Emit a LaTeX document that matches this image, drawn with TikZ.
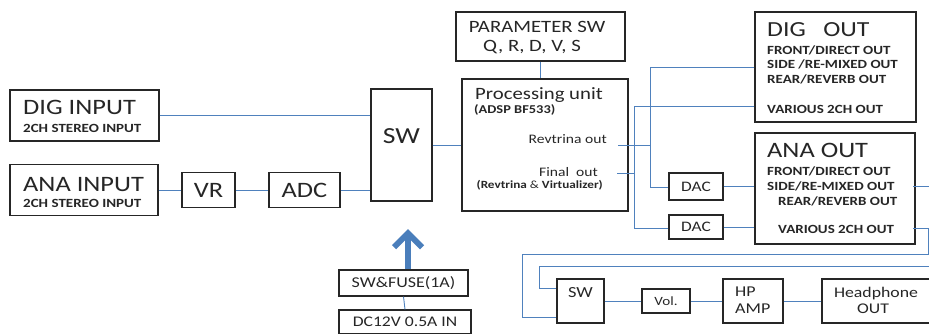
\documentclass[tikz,border=0pt]{standalone}
\usepackage{fontspec}
\setmainfont{Carlito}[FakeStretch=1.2]
\usetikzlibrary{arrows.meta}
\definecolor{wireblue}{HTML}{4F81BD}
\definecolor{arrowblue}{HTML}{4A7EBB}
\definecolor{boxgray}{HTML}{262626}
\begin{document}
\begin{tikzpicture}[x=1pt, y=-1pt,
    box/.style={draw=boxgray, line width=1.1pt, inner sep=0pt, text=boxgray},
    txt/.style={inner sep=0pt, text=boxgray},
    big/.style={txt, font=\fontsize{22}{22}\selectfont},
    small/.style={txt, anchor=base west, font=\fontsize{12.5}{13}\bfseries},
    wire/.style={draw=wireblue, line width=0.9pt},
    power/.style={draw=arrowblue, line width=6pt, -{Straight Barb[length=14pt, width=28pt, line width=6pt]}}]
  \useasboundingbox (0,0) rectangle (929,333);
  % inputs
  \node[box, minimum width=149, minimum height=51] (digin) at (84.5,115.5) {};
  \node[big, anchor=base west] (digint) at (23,114) {DIG INPUT};
  \node[small] (digins) at (23,132) {2CH STEREO INPUT};
  \node[box, minimum width=148, minimum height=51] (anain) at (84,190) {};
  \node[big, anchor=base west] (anaint) at (23,191) {ANA INPUT};
  \node[small] (anains) at (23,207) {2CH STEREO INPUT};
  \node[box, minimum width=53, minimum height=35, font=\fontsize{22}{22}\selectfont] (vr) at (208.5,190) {VR};
  \node[box, minimum width=71, minimum height=35, font=\fontsize{22}{22}\selectfont] (adc) at (304.5,190) {ADC};
  \node[box, minimum width=61, minimum height=112, text depth=18pt, font=\fontsize{23}{23}\selectfont] (sw1) at (401.5,145) {SW};
  % processing
  \node[box, minimum width=169, minimum height=49] (param) at (540.5,36.5) {};
  \node[txt, anchor=base, font=\fontsize{17.3}{18}\selectfont] (paramt) at (537,32) {PARAMETER SW};
  \node[txt, anchor=base, font=\fontsize{17.3}{18}\selectfont] (params) at (532,51.5) {Q, R, D, V, S};
  \node[box, minimum width=166, minimum height=132] (proc) at (545,145) {};
  \node[txt, anchor=base west, font=\fontsize{17.3}{18}\selectfont] (proct) at (475,99) {Processing unit};
  \node[txt, anchor=base west, font=\fontsize{12}{12}\bfseries] (procs) at (474,113) {(ADSP BF533)};
  \node[txt, anchor=base east, font=\fontsize{13}{13}\selectfont] (revt) at (607,143) {Revtrina out};
  \node[txt, anchor=base east, font=\fontsize{13}{13}\selectfont] (fint) at (598,176) {Final\ \ out};
  \node[txt, anchor=base east, font=\fontsize{11}{11}\bfseries] (fins) at (603,188) {(Revtrina \textmd{\&} Virtualizer)};
  % outputs
  \node[box, minimum width=161, minimum height=110] (digout) at (835.5,67) {};
  \node[big, anchor=base west, font=\fontsize{21.5}{22}\selectfont] (digoutt) at (767,36) {DIG\ \ \ OUT};
  \node[small] (digo1) at (767,54) {FRONT/DIRECT OUT};
  \node[small] (digo2) at (767,68.5) {SIDE /RE-MIXED OUT};
  \node[small] (digo3) at (767,83) {REAR/REVERB OUT};
  \node[small] (digo4) at (767,113) {VARIOUS 2CH OUT};
  \node[box, minimum width=160, minimum height=111] (anaout) at (835,188.5) {};
  \node[big, anchor=base west] (anaoutt) at (767,157) {ANA OUT};
  \node[small] (anao1) at (767,175) {FRONT/DIRECT OUT};
  \node[small] (anao2) at (767,190) {SIDE/RE-MIXED OUT};
  \node[small] (anao3) at (778,205) {REAR/REVERB OUT};
  \node[small] (anao4) at (778,233) {VARIOUS 2CH OUT};
  \node[box, minimum width=54, minimum height=27, font=\fontsize{14.5}{15}\selectfont] (dac1) at (696,186.5) {DAC};
  \node[box, minimum width=54, minimum height=24, font=\fontsize{14.5}{15}\selectfont] (dac2) at (696,227) {DAC};
  % power
  \node[box, minimum width=129, minimum height=26, font=\fontsize{15}{15}\selectfont] (fuse) at (403.5,283) {SW\&FUSE(1A)};
  \node[box, minimum width=132, minimum height=24, font=\fontsize{14.7}{15}\selectfont] (dcin) at (405,322) {DC12V 0.5A IN};
  % headphone
  \node[box, minimum width=47, minimum height=44, text depth=18pt, font=\fontsize{15.4}{16}\selectfont] (sw2) at (580.5,301) {SW};
  \node[box, minimum width=48, minimum height=24, font=\fontsize{12.6}{13}\selectfont] (vol) at (666,301) {Vol.};
  \node[box, minimum width=60, minimum height=44] (hpamp) at (753,301) {};
  \node[txt, anchor=base west, font=\fontsize{15}{15}\selectfont] (hpampa) at (735,296) {HP};
  \node[txt, anchor=base west, font=\fontsize{15}{15}\selectfont] (hpampb) at (735,313) {AMP};
  \node[box, minimum width=110, minimum height=44] (hpout) at (877,301) {};
  \node[txt, anchor=base, font=\fontsize{14.8}{15}\selectfont] (hpouta) at (876,297.5) {Headphone};
  \node[txt, anchor=base, font=\fontsize{14.8}{15}\selectfont] (hpoutb) at (873,313) {OUT};
  % junctions
  \coordinate (revtout) at (618,145);
  \coordinate (rtop) at (650,67);
  \coordinate (rbot) at (650,187);
  \coordinate (finout) at (617,173);
  \coordinate (ftop) at (634,106);
  \coordinate (fbot) at (634,228);
  \coordinate (sideout) at (913,186);
  \coordinate (edgea) at (935,186);
  \coordinate (varout) at (913,228);
  \coordinate (loopa) at (928,254);
  \coordinate (loopb) at (522,317);
  \coordinate (edgeb) at (935,266);
  \coordinate (loopc) at (539,288);
  \coordinate (pwrtip) at (408,229);
  % wires
  \draw[wire] (digin.east) -- (digin.east -| sw1.west);
  \draw[wire] (anain) -- (vr);
  \draw[wire] (vr) -- (adc);
  \draw[wire] (adc.east) -- (adc.east -| sw1.west);
  \draw[wire] (sw1) -- (proc);
  \draw[wire] (param.south) -- (param.south |- proc.north);
  \draw[wire] (revtout) -- (revtout -| rtop);
  \draw[wire] (rtop -| digout.west) -- (rtop) -- (rbot) -- (rbot -| dac1.west);
  \draw[wire] (finout) -- (finout -| ftop);
  \draw[wire] (ftop -| digout.west) -- (ftop) -- (fbot) -- (fbot -| dac2.west);
  \draw[wire] (dac1.east) -- (dac1.east -| anaout.west);
  \draw[wire] (dac2.east) -- (dac2.east -| anaout.west);
  \draw[wire] (sideout) -- (edgea);
  \draw[wire] (varout) -| (loopa) -| (loopb) -- (loopb -| sw2.west);
  \draw[wire] (edgeb) -| (loopc) -- (loopc -| sw2.west);
  \draw[wire] (sw2) -- (vol);
  \draw[wire] (vol) -- (hpamp);
  \draw[wire] (hpamp) -- (hpout);
  \draw[wire] (fuse.south) -- (dcin.north);
  \draw[power] (fuse.north -| pwrtip) -- (pwrtip);
\end{tikzpicture}
\end{document}
